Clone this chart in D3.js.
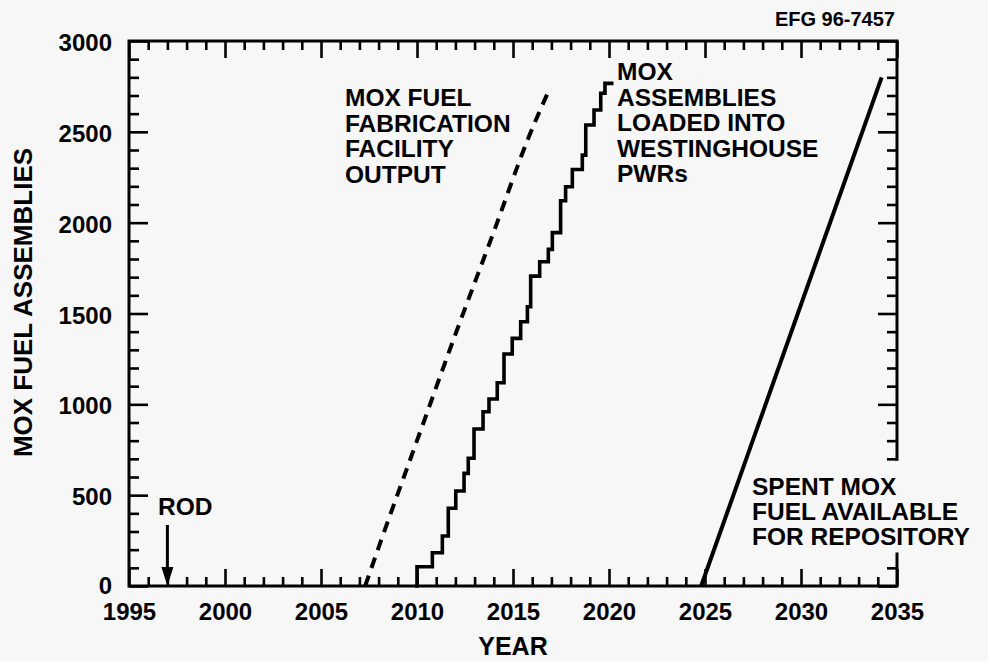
<!DOCTYPE html>
<html><head><meta charset="utf-8">
<script src="https://cdn.jsdelivr.net/npm/d3@7"></script>
<style>
html,body{margin:0;padding:0;background:#f7f7f7;}
svg{display:block;font-family:"Liberation Sans",Arial,Helvetica,sans-serif;font-weight:bold;}
</style></head><body>
<svg id="chart" width="988" height="661"></svg>
<script>
// Axis tick labels
const xTickLabels = [1995, 2000, 2005, 2010, 2015, 2020, 2025, 2030, 2035];
const yTickLabels = [0, 500, 1000, 1500, 2000, 2500, 3000];

// MOX fuel fabrication facility output (cumulative assemblies)
const fabYears  = [2007.3, 2008.1, 2010, 2012, 2014, 2015.8, 2016.8];
const fabCounts = [0, 242, 800, 1385, 1950, 2466, 2712];

// Cumulative MOX assemblies loaded into Westinghouse PWRs (stepwise reloads)
const loadedYears = [2010, 2010, 2010.8, 2011.32, 2011.63, 2012.02, 2012.45, 2012.67, 2012.97,
  2013.44, 2013.75, 2014.18, 2014.53, 2014.96, 2015.40, 2015.75, 2015.92, 2016.39, 2016.84,
  2017.05, 2017.48, 2017.74, 2018.09, 2018.61, 2018.79, 2019.22, 2019.57, 2019.79, 2020.14];
const loadedCounts = [0, 106, 183, 275, 428, 523, 620, 703, 864,
  959, 1029, 1119, 1277, 1363, 1455, 1537, 1706, 1785, 1853,
  1945, 2121, 2198, 2293, 2372, 2538, 2620, 2712, 2767, 2767];

// Spent MOX fuel available for repository
const spentYears  = [2024.8, 2034.2];
const spentCounts = [0, 2800];

// Record of decision
const rodYear = 1997;

// Right-hand frame is interrupted where the repository label runs across it
const rightGap = [185, 690];

const svg = d3.select("#chart");
const x = d3.scaleLinear().domain([1995, 2035]).range([129, 897]);
const y = d3.scaleLinear().domain([0, 3000]).range([586, 41]);

const yearTicks = d3.range(1995, 2036);
const countTicks = d3.range(0, 3001, 100);
const minorYears = yearTicks.filter(v => v % 5 !== 0);
const minorCounts = countTicks.filter(v => v % 500 !== 0);
const outsideGap = v => v < rightGap[0] || v > rightGap[1];

function styleAxis(g) {
  g.select(".domain").remove();
  g.selectAll(".tick line").attr("stroke", "#000").attr("stroke-width", 2.6);
  g.selectAll(".tick text").attr("fill", "#000").style("font-size", "24px")
    .style("font-weight", "bold").style("font-family", '"Liberation Sans",Arial,sans-serif');
}

// bottom
svg.append("g").attr("transform", `translate(0,${y(0)})`)
  .call(d3.axisBottom(x).tickValues(minorYears).tickSize(-9).tickFormat("")).call(styleAxis);
svg.append("g").attr("transform", `translate(0,${y(0)})`)
  .call(d3.axisBottom(x).tickValues(xTickLabels).tickSize(-17).tickPadding(17).tickFormat(d3.format("d")))
  .call(styleAxis);
// top
svg.append("g").attr("transform", `translate(0,${y(3000)})`)
  .call(d3.axisTop(x).tickValues(minorYears).tickSize(-9).tickFormat("")).call(styleAxis);
svg.append("g").attr("transform", `translate(0,${y(3000)})`)
  .call(d3.axisTop(x).tickValues(xTickLabels).tickSize(-17).tickFormat("")).call(styleAxis);
// left
svg.append("g").attr("transform", `translate(${x(1995)},0)`)
  .call(d3.axisLeft(y).tickValues(minorCounts).tickSize(-10).tickFormat("")).call(styleAxis);
const yMajor = svg.append("g").attr("transform", `translate(${x(1995)},0)`)
  .call(d3.axisLeft(y).tickValues(yTickLabels).tickSize(-19).tickPadding(17).tickFormat(d3.format("d")))
  .call(styleAxis);
yMajor.selectAll(".tick text").attr("dy", d => d === 0 ? "0.3em" : "0.4em");
// right
svg.append("g").attr("transform", `translate(${x(2035)},0)`)
  .call(d3.axisRight(y).tickValues(minorCounts.filter(outsideGap)).tickSize(-10).tickFormat("")).call(styleAxis);
svg.append("g").attr("transform", `translate(${x(2035)},0)`)
  .call(d3.axisRight(y).tickValues(yTickLabels.filter(outsideGap)).tickSize(-19).tickFormat("")).call(styleAxis);

// frame
const x0 = x(1995), x1 = x(2035), yb = y(0), yt = y(3000);
svg.append("path")
  .attr("d", `M${x1},${y(rightGap[1])} L${x1},${yt} L${x0},${yt} L${x0},${yb} L${x1},${yb} L${x1},${y(rightGap[0])}`)
  .attr("fill", "none").attr("stroke", "#000").attr("stroke-width", 3)
  .attr("stroke-linejoin", "miter").attr("stroke-linecap", "butt");

// series
const fabData = fabYears.map((d, i) => [d, fabCounts[i]]);
const loadedData = loadedYears.map((d, i) => [d, loadedCounts[i]]);
const spentData = spentYears.map((d, i) => [d, spentCounts[i]]);

svg.append("path").datum(fabData)
  .attr("d", d3.line().x(d => x(d[0])).y(d => y(d[1])).curve(d3.curveMonotoneX))
  .attr("fill", "none").attr("stroke", "#000").attr("stroke-width", 4)
  .attr("stroke-dasharray", "11,8");

svg.append("path").datum(loadedData)
  .attr("d", d3.line().x(d => x(d[0])).y(d => y(d[1])).curve(d3.curveStepAfter))
  .attr("fill", "none").attr("stroke", "#000").attr("stroke-width", 3.6)
  .attr("stroke-linejoin", "miter").attr("stroke-linecap", "square");

svg.append("path").datum(spentData)
  .attr("d", d3.line().x(d => x(d[0])).y(d => y(d[1])))
  .attr("fill", "none").attr("stroke", "#000").attr("stroke-width", 4);

// ROD arrow
const ax = x(rodYear);
svg.append("line").attr("x1", ax).attr("x2", ax).attr("y1", 525).attr("y2", 570)
  .attr("stroke", "#000").attr("stroke-width", 3);
svg.append("path")
  .attr("d", `M${ax - 6},567 L${ax + 6},567 L${ax},${y(0)} Z`)
  .attr("fill", "#000");

// text annotations
function block(lines, left, top, lh) {
  const t = svg.append("text").attr("x", left).attr("y", top)
    .style("font-size", "24.5px").attr("fill", "#000");
  lines.forEach((s, i) => t.append("tspan").attr("x", left).attr("y", top + i * lh).text(s));
}
block(["MOX FUEL", "FABRICATION", "FACILITY", "OUTPUT"], 345, 106, 25.5);
block(["MOX", "ASSEMBLIES", "LOADED INTO", "WESTINGHOUSE", "PWRs"], 617, 80, 25.6);
block(["SPENT MOX", "FUEL AVAILABLE", "FOR REPOSITORY"], 752, 495, 25.2);
block(["ROD"], 158, 515, 25);

svg.append("text").attr("x", 895).attr("y", 26).attr("text-anchor", "end")
  .style("font-size", "20px").text("EFG 96-7457");

// axis titles
svg.append("text").attr("x", (x(1995) + x(2035)) / 2).attr("y", 655)
  .attr("text-anchor", "middle").style("font-size", "25px").text("YEAR");
svg.append("text").attr("transform", `translate(32,${(y(0) + y(3000)) / 2 - 11}) rotate(-90)`)
  .attr("text-anchor", "middle").style("font-size", "26px").text("MOX FUEL ASSEMBLIES");
</script>
</body></html>
